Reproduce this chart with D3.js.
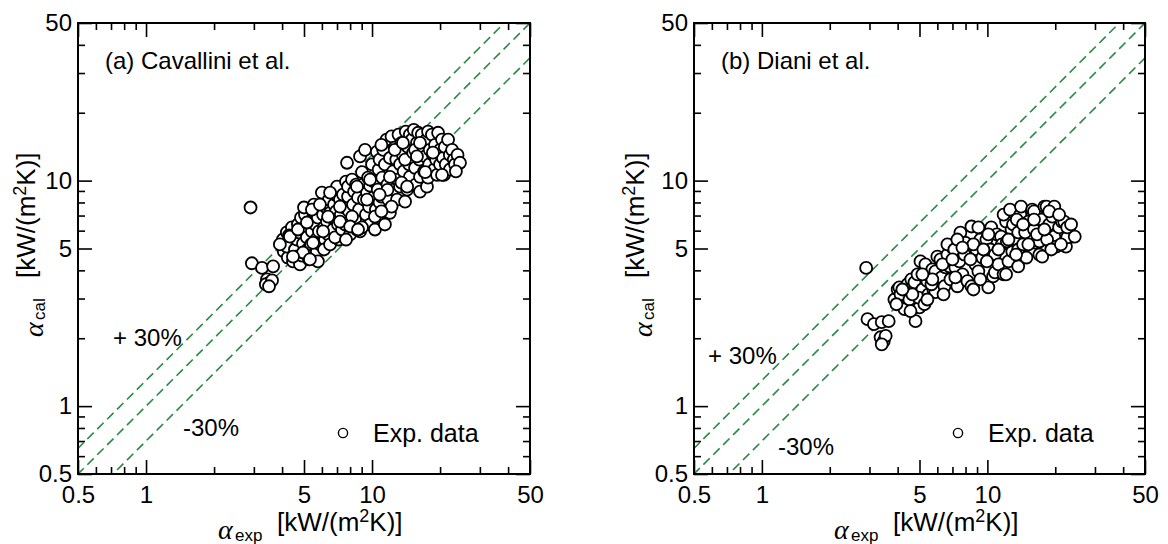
<!DOCTYPE html>
<html>
<head>
<meta charset="utf-8">
<script src="https://cdn.jsdelivr.net/npm/d3@7"></script>
<style>
  body { margin: 0; background: #fff; }
  svg { display: block; font-family: "Liberation Sans", Arial, sans-serif; }
</style>
</head>
<body>
<svg id="chart" width="1168" height="544"></svg>
<script>
// [alpha_exp, alpha_cal] in kW/(m2K)
const cavalliniPoints = [
  [2.9,7.6],[2.94,4.3],[3.26,4.1],[3.65,4.17],[3.43,3.65],[3.54,3.54],[3.39,3.47],[3.61,3.61],[3.5,3.4],
  [4.03,5.48],[4.2,5.9],[4.07,4.85],[4.24,4.56],[4.33,5.21],[4.42,6.2],[4.29,5.71],[4.47,4.38],[4.2,5.1],
  [4.56,4.95],[4.65,5.48],[4.7,6.39],[4.6,4.6],[4.8,4.25],[4.75,5.9],[4.85,6.86],[4.95,5.26],[4.9,4.65],
  [5.05,7.07],[5.1,6.2],[5.15,5.6],[5.2,4.95],[5.26,4.47],[5.0,7.6],[5.31,6.58],[5.37,5.21],[5.42,5.95],
  [5.48,7.3],[5.59,6.39],[5.65,5.48],[5.7,4.85],[5.76,6.86],[5.82,5.95],[5.53,7.83],[5.88,5.21],[5.76,4.38],
  [6.0,8.85],[6.07,7.07],[6.13,6.2],[6.19,5.48],[6.26,7.6],[6.32,6.58],[6.39,5.77],[6.45,8.24],[6.52,7.2],[6.13,4.95],[6.52,5.21],
  [6.65,6.86],[6.72,6.07],[6.79,7.83],[6.86,8.67],[6.93,7.3],[7.0,9.4],[7.07,6.39],[7.14,5.48],[6.86,5.6],[7.21,8.24],
  [7.28,7.07],[7.36,6.07],[7.44,8.67],[7.51,7.6],[7.59,6.39],[7.67,9.9],[7.75,12.0],[7.83,8.5],[7.91,7.3],[8.0,5.77],[7.83,9.4],[7.67,5.48],
  [8.16,10.1],[8.24,7.83],[8.33,8.94],[8.41,6.72],[8.5,9.6],[8.58,6.07],[8.67,8.4],[8.76,7.44],[8.85,12.8],[8.85,5.95],[8.16,6.93],
  [9.03,10.9],[9.12,9.6],[9.21,8.24],[9.31,13.7],[9.4,7.07],[9.5,8.85],[9.6,10.3],[9.7,7.67],[9.8,6.39],[9.03,6.2],[9.8,9.5],
  [10.0,11.8],[10.1,8.4],[10.2,9.9],[10.3,6.07],[10.4,7.44],[10.5,13.4],[10.6,9.12],[10.7,11.2],[10.8,8.0],[10.3,6.93],[10.8,12.4],
  [11.0,8.5],[11.1,10.3],[11.2,13.7],[11.4,11.8],[11.5,7.3],[11.6,15.2],[11.7,9.6],[11.8,8.24],[12.0,12.6],[12.0,7.2],[11.4,6.39],[11.0,14.4],
  [12.2,15.7],[12.4,11.0],[12.5,9.12],[12.6,14.0],[12.8,12.4],[12.9,8.24],[13.0,10.1],[13.1,16.0],[13.3,9.4],[12.2,7.67],[13.3,11.8],
  [13.5,14.7],[13.7,13.0],[13.8,11.0],[14.0,8.07],[14.1,16.5],[14.3,9.12],[14.4,14.1],[14.6,11.8],[14.7,10.4],[14.7,16.0],[13.5,9.8],[14.0,12.4],
  [15.0,15.2],[15.2,13.3],[15.3,16.8],[15.5,11.4],[15.6,9.6],[15.8,14.7],[16.0,16.3],[16.2,12.4],[16.3,10.4],[16.3,8.94],[15.5,13.7],
  [16.6,16.0],[16.9,14.0],[17.0,11.0],[17.2,12.8],[17.4,15.2],[17.5,9.4],[17.7,16.5],[17.9,11.8],[18.0,13.7],[17.7,10.3],
  [18.4,16.0],[18.6,13.0],[18.8,11.2],[19.0,14.4],[19.2,12.4],[19.4,10.6],[19.6,16.3],[20.0,13.7],[20.0,11.8],
  [20.4,15.2],[20.6,12.6],[20.8,10.6],[21.0,14.1],[21.2,11.8],[21.7,15.2],[22.1,13.0],[22.1,11.2],
  [22.6,13.7],[23.0,12.4],[23.3,11.8],[23.9,13.0],[24.5,12.0],[23.5,11.0],
  [20.4,10.6],[17.2,10.9],[14.3,9.4],[12.0,10.4],[11.7,9.1],[10.8,8.67],[9.5,8.24],[11.0,7.3],
  [6.52,8.85],[8.58,9.4],[9.8,10.1],[12.6,13.7],[16.3,14.7],[18.6,13.3],[15.8,12.8],[13.7,14.7],
  [4.33,5.65],[4.7,6.07],[5.15,6.52],[5.42,7.44],[5.88,7.83],[6.39,6.93],[7.21,7.67],[7.21,6.58],
  [8.0,6.26],[8.67,6.07],[6.07,5.95],[5.48,5.3],[4.95,4.8],[4.47,4.6],[3.91,5.21],[5.31,4.47]
];

const dianiPoints = [
  [2.9,4.1],[2.94,2.43],[3.14,2.31],[3.4,2.36],[3.65,2.38],[3.36,2.02],[3.47,1.94],[3.54,2.05],[3.4,1.88],
  [3.87,2.97],[4.0,3.29],[4.07,3.36],[4.2,2.83],[4.29,2.69],[4.33,3.07],[4.12,3.13],[3.95,2.83],[4.42,3.47],
  [4.51,2.97],[4.6,3.65],[4.7,3.23],[4.75,3.54],[4.8,2.38],[4.9,3.84],[5.0,2.74],[5.05,4.38],[5.15,3.29],[4.56,2.64],[4.95,3.03],
  [5.31,4.25],[5.42,3.58],[5.48,3.13],[5.59,3.76],[5.7,4.04],[5.76,3.29],[5.88,3.96],[5.88,3.2],[6.0,4.6],[5.26,2.83],[5.65,3.47],
  [6.19,4.47],[6.26,3.72],[6.45,3.4],[6.52,4.12],[6.65,4.7],[6.79,4.17],[6.86,3.65],[7.0,5.05],[6.39,3.13],[6.65,5.21],
  [7.14,4.95],[7.21,4.12],[7.36,3.4],[7.51,4.38],[7.59,5.88],[7.75,3.84],[7.91,4.7],[8.0,5.3],[8.16,3.58],[7.36,5.48],
  [8.5,6.26],[8.5,3.4],[8.67,3.29],[8.85,4.25],[8.94,4.95],[9.12,6.2],[9.12,3.96],[9.3,5.48],[9.5,4.56],[8.67,5.21],
  [9.9,5.48],[10.1,3.36],[10.3,4.95],[10.4,6.2],[10.6,3.76],[10.8,4.7],[10.8,3.92],[11.0,5.77],[11.2,4.25],[9.95,4.38],
  [11.5,5.65],[11.6,5.21],[11.8,3.84],[12.1,6.58],[11.8,7.07],[12.4,4.38],[12.6,7.44],[12.8,6.07],[12.9,4.85],[12.2,5.37],[13.0,6.39],
  [13.4,5.48],[13.7,5.9],[13.7,4.95],[13.7,4.17],[14.0,7.07],[14.1,7.67],[14.4,5.21],[14.7,5.9],[14.9,4.56],[15.2,6.58],[13.5,6.72],
  [15.8,7.44],[16.1,7.3],[16.1,6.07],[16.5,5.3],[17.0,5.37],[17.0,4.7],[17.4,6.72],[17.5,4.6],[17.9,7.67],[16.6,5.77],
  [18.3,7.67],[18.8,6.39],[19.4,6.93],[19.8,7.67],[19.8,5.65],[20.2,5.1],[20.8,6.2],[18.4,5.48],[19.2,4.95],
  [21.4,6.58],[21.9,6.58],[22.3,5.1],[23.0,6.07],[23.7,5.65],[22.6,5.6],[24.4,5.65],[21.2,5.21],
  [12.1,3.84],[6.32,4.25],[7.0,4.47],[7.75,5.05],[8.41,4.47],[9.6,4.95],[10.1,5.77],[11.2,4.95],
  [12.4,5.48],[14.4,6.39],[16.1,6.72],[17.9,6.07],[18.8,7.3],[20.8,7.07],[22.6,6.2],[23.5,6.39],
  [5.7,3.65],[5.15,3.84],[4.65,3.13],[4.2,3.29],[5.42,2.97],[7.21,3.72],[9.3,3.65],[13.4,4.7],[15.2,5.21]
];

const axisRange = [0.5, 50];
const majorTicks = [0.5, 1, 5, 10, 50];
const minorTicks = [0.6, 0.7, 0.8, 0.9, 2, 3, 4, 6, 7, 8, 9, 20, 30, 40];
const deviationFactors = [1.3, 1, 0.7];

const TOP = 23, BOTTOM = 474;
const DASH_COLOR = '#2a8a44';

const panels = [
  { left: 78, right: 530, title: '(a) Cavallini et al.', points: cavalliniPoints,
    plus: [113, 346], minus: [183, 436], yTitleX: 43, xTitleX: 218 },
  { left: 694, right: 1145, title: '(b) Diani et al.', points: dianiPoints,
    plus: [708, 364], minus: [778, 455], yTitleX: 652, xTitleX: 834 }
];

const svg = d3.select('#chart');

// alpha with subscript, then the unit a bit higher
const axisTitle = (parent, sub, tx, ty, rotate) => {
  const t = parent.append('g')
    .attr('transform', `translate(${tx},${ty})` + (rotate ? ' rotate(-90)' : ''));
  t.append('text')
    .attr('font-family', '"Liberation Serif", "DejaVu Serif", serif')
    .attr('font-style', 'italic')
    .attr('font-size', 28)
    .text('α');
  t.append('text').attr('x', 17).attr('y', 2).attr('font-size', 17).text(sub);
  const unit = t.append('text').attr('x', 59).attr('y', -8).attr('font-size', 26);
  unit.append('tspan').text('[kW/(m');
  unit.append('tspan').attr('dy', -9).attr('font-size', 18).text('2');
  unit.append('tspan').attr('dy', 9).text('K)]');
};

panels.forEach((p, i) => {
  const x = d3.scaleLog().domain(axisRange).range([p.left, p.right]);
  const y = d3.scaleLog().domain(axisRange).range([BOTTOM, TOP]);
  const g = svg.append('g');

  const clipId = `plot-clip-${i}`;
  svg.append('clipPath').attr('id', clipId)
    .append('rect')
    .attr('x', p.left).attr('y', TOP)
    .attr('width', p.right - p.left).attr('height', BOTTOM - TOP);

  // 0 / +30 / -30 % lines
  const line = d3.line().x((d) => x(d[0])).y((d) => y(d[1]));
  g.append('g')
    .attr('clip-path', `url(#${clipId})`)
    .selectAll('path')
    .data(deviationFactors)
    .join('path')
    .attr('d', (k) => line([[0.3, 0.3 * k], [80, 80 * k]]))
    .attr('fill', 'none')
    .attr('stroke', DASH_COLOR)
    .attr('stroke-width', 1.6)
    .attr('stroke-dasharray', '9,5');

  g.append('g')
    .selectAll('circle')
    .data(p.points)
    .join('circle')
    .attr('cx', (d) => x(d[0]))
    .attr('cy', (d) => y(d[1]))
    .attr('r', 6)
    .attr('fill', '#fff')
    .attr('stroke', '#000')
    .attr('stroke-width', 1.8);

  // ticks point inward on all four sides
  const sides = [
    [() => d3.axisBottom(x), `translate(0,${BOTTOM})`, true, 12],
    [() => d3.axisTop(x), `translate(0,${TOP})`, false, 0],
    [() => d3.axisLeft(y), `translate(${p.left},0)`, true, 6],
    [() => d3.axisRight(y), `translate(${p.right},0)`, false, 0]
  ];
  sides.forEach(([make, tr, labelled, pad]) => {
    [[majorTicks, 14], [minorTicks, 7]].forEach(([vals, len], j) => {
      const ax = make()
        .tickValues(vals)
        .tickSizeInner(-len)
        .tickSizeOuter(0)
        .tickPadding(pad)
        .tickFormat(labelled && j === 0 ? d3.format('~g') : '');
      const a = g.append('g').attr('transform', tr).call(ax);
      a.select('.domain').remove();
      a.selectAll('line').attr('stroke', '#000').attr('stroke-width', 1.6);
      a.selectAll('text')
        .attr('fill', '#000')
        .attr('font-size', 24)
        .attr('font-family', '"Liberation Sans", Arial, sans-serif');
    });
  });

  g.append('rect')
    .attr('x', p.left).attr('y', TOP)
    .attr('width', p.right - p.left).attr('height', BOTTOM - TOP)
    .attr('fill', 'none')
    .attr('stroke', '#000')
    .attr('stroke-width', 2);

  g.append('text')
    .attr('x', p.left + 27).attr('y', 69)
    .attr('font-size', 24)
    .text(p.title);

  g.append('text').attr('x', p.plus[0]).attr('y', p.plus[1]).attr('font-size', 24).text('+ 30%');
  g.append('text').attr('x', p.minus[0]).attr('y', p.minus[1]).attr('font-size', 24).text('-30%');

  // legend
  g.append('circle')
    .attr('cx', p.right - 187).attr('cy', 433).attr('r', 4.6)
    .attr('fill', '#fff').attr('stroke', '#000').attr('stroke-width', 1.4);
  g.append('text')
    .attr('x', p.right - 157).attr('y', 442)
    .attr('font-size', 25)
    .text('Exp. data');

  axisTitle(g, 'exp', p.xTitleX, 539, false);
  axisTitle(g, 'cal', p.yTitleX, 337, true);
});
</script>
</body>
</html>
